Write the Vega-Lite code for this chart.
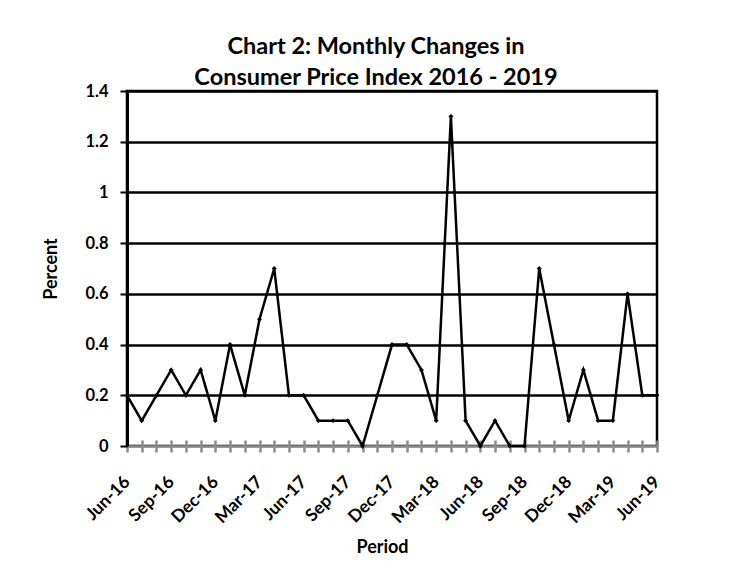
{
  "$schema": "https://vega.github.io/schema/vega-lite/v6.json",
  "width": 530,
  "height": 355,
  "autosize": {"type": "none"},
  "padding": {"left": 127, "top": 91, "right": 73, "bottom": 140},
  "background": "white",
  "title": {
    "text": ["Chart 2: Monthly Changes in", "Consumer Price Index 2016 - 2019"],
    "font": "Lato",
    "fontSize": 23.5,
    "fontWeight": "bold",
    "color": "black",
    "anchor": "middle",
    "baseline": "alphabetic",
    "lineHeight": 31,
    "offset": -25,
    "dx": -16
  },
  "config": {
    "view": {"stroke": "black", "strokeWidth": 2.5},
    "axis": {"labelFont": "Lato", "titleFont": "Lato", "labelColor": "black", "titleColor": "black"}
  },
  "data": {
    "values": [
      {"period": "Jun-16", "value": 0.2},
      {"period": "Jul-16", "value": 0.1},
      {"period": "Aug-16", "value": 0.2},
      {"period": "Sep-16", "value": 0.3},
      {"period": "Oct-16", "value": 0.2},
      {"period": "Nov-16", "value": 0.3},
      {"period": "Dec-16", "value": 0.1},
      {"period": "Jan-17", "value": 0.4},
      {"period": "Feb-17", "value": 0.2},
      {"period": "Mar-17", "value": 0.5},
      {"period": "Apr-17", "value": 0.7},
      {"period": "May-17", "value": 0.2},
      {"period": "Jun-17", "value": 0.2},
      {"period": "Jul-17", "value": 0.1},
      {"period": "Aug-17", "value": 0.1},
      {"period": "Sep-17", "value": 0.1},
      {"period": "Oct-17", "value": 0.0},
      {"period": "Nov-17", "value": 0.2},
      {"period": "Dec-17", "value": 0.4},
      {"period": "Jan-18", "value": 0.4},
      {"period": "Feb-18", "value": 0.3},
      {"period": "Mar-18", "value": 0.1},
      {"period": "Apr-18", "value": 1.3},
      {"period": "May-18", "value": 0.1},
      {"period": "Jun-18", "value": 0.0},
      {"period": "Jul-18", "value": 0.1},
      {"period": "Aug-18", "value": 0.0},
      {"period": "Sep-18", "value": 0.0},
      {"period": "Oct-18", "value": 0.7},
      {"period": "Nov-18", "value": 0.4},
      {"period": "Dec-18", "value": 0.1},
      {"period": "Jan-19", "value": 0.3},
      {"period": "Feb-19", "value": 0.1},
      {"period": "Mar-19", "value": 0.1},
      {"period": "Apr-19", "value": 0.6},
      {"period": "May-19", "value": 0.2},
      {"period": "Jun-19", "value": 0.2}
    ]
  },
  "mark": {
    "type": "line",
    "color": "black",
    "strokeWidth": 2.5,
    "point": {"shape": "diamond", "filled": true, "size": 24, "color": "black"}
  },
  "encoding": {
    "x": {
      "field": "period",
      "type": "ordinal",
      "sort": null,
      "scale": {"type": "point", "padding": 0},
      "axis": {
        "title": "Period",
        "titleFontSize": 18,
        "titleFontWeight": "bold",
        "titlePadding": 12,
        "titleX": 255,
        "labelAngle": -45,
        "labelAlign": "right",
        "labelBaseline": "middle",
        "labelFontSize": 17.5,
        "labelFontWeight": "bold",
        "labelPadding": 27,
        "labelExpr": "indexof(['Jun','Sep','Dec','Mar'], slice(datum.value, 0, 3)) >= 0 ? datum.value : ''",
        "labelOverlap": false,
        "domain": false,
        "offset": -6,
        "ticks": true,
        "tickSize": 12,
        "tickColor": "#8c8c8c",
        "tickWidth": 2.5,
        "grid": false
      }
    },
    "y": {
      "field": "value",
      "type": "quantitative",
      "scale": {"domain": [0, 1.4], "nice": false},
      "axis": {
        "title": "Percent",
        "titleFontSize": 18,
        "titleFontWeight": "bold",
        "titlePadding": 24,
        "values": [0, 0.2, 0.4, 0.6, 0.8, 1, 1.2, 1.4],
        "format": "~g",
        "labelFontSize": 16.5,
        "labelFontWeight": "bold",
        "labelPadding": 12,
        "tickSize": 7,
        "tickColor": "black",
        "tickWidth": 2,
        "domainColor": "black",
        "domainWidth": 3,
        "grid": true,
        "gridColor": {"condition": {"test": "datum.value === 0", "value": "#8c8c8c"}, "value": "black"},
        "gridWidth": 2.5,
        "gridOpacity": 1
      }
    }
  }
}
